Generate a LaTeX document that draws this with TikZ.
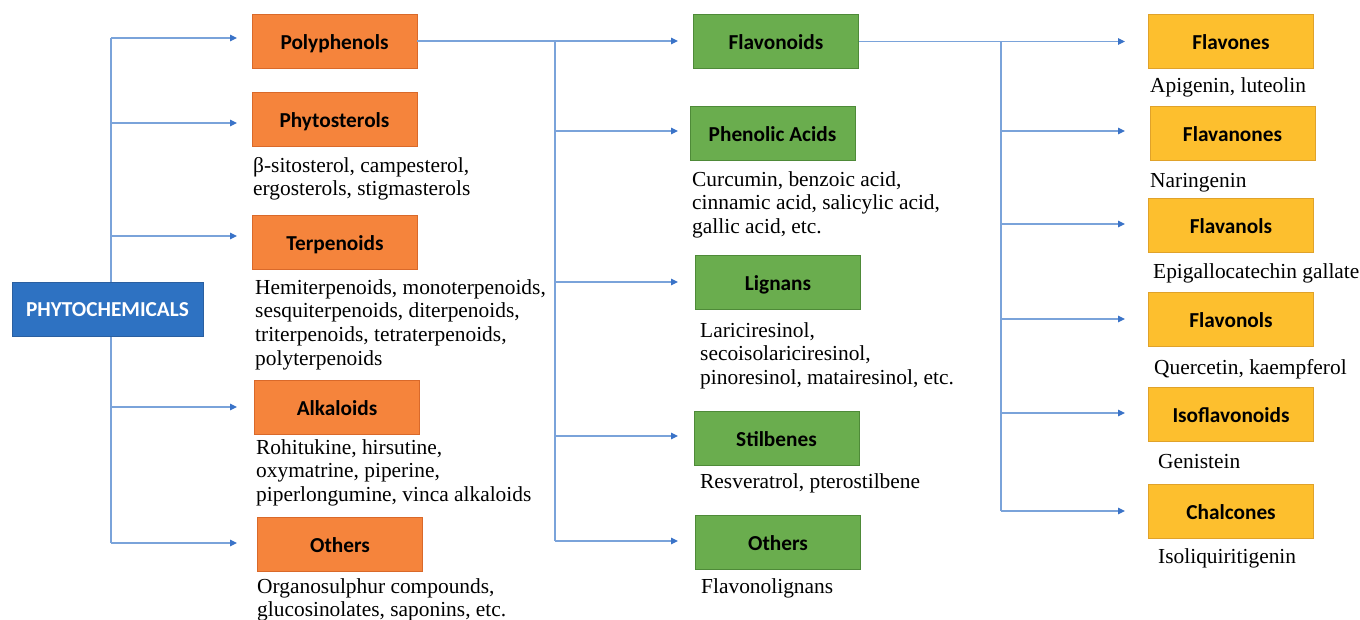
\documentclass[tikz,border=0pt]{standalone}
\usepackage{fontspec}
\setmainfont{Liberation Serif}
\newfontfamily\labfont{Carlito}
\usetikzlibrary{arrows.meta}
\definecolor{orfill}{HTML}{F5843C}
\definecolor{ordraw}{HTML}{D9692A}
\definecolor{grfill}{HTML}{6AAD4E}
\definecolor{grdraw}{HTML}{4E8A38}
\definecolor{yefill}{HTML}{FDBF2E}
\definecolor{yedraw}{HTML}{E0A22A}
\definecolor{blfill}{HTML}{2E72C2}
\definecolor{bldraw}{HTML}{2A5FA0}
\definecolor{linecol}{HTML}{7AA3DA}
\definecolor{tipcol}{HTML}{3A73C8}
\newcommand\desclines[1]{\begin{tabular}[t]{@{}l@{}}#1\end{tabular}}
\begin{document}
\begin{tikzpicture}[x=1pt,y=-1pt,
  box/.style={rectangle, inner sep=0pt, minimum width=165pt, minimum height=54pt, line width=0.9pt,
    text height=18pt, text depth=2pt,
    font=\labfont\bfseries\fontsize{21.3}{24}\selectfont},
  orbox/.style={box, fill=orfill, draw=ordraw},
  grbox/.style={box, fill=grfill, draw=grdraw},
  yebox/.style={box, fill=yefill, draw=yedraw},
  desc/.style={anchor=base west, inner sep=0pt, font=\fontsize{21.4}{23.8}\selectfont},
  conn/.style={draw=linecol, line width=1.1pt},
  arr/.style={conn, -{Triangle[length=7pt,width=6.5pt,color=tipcol]}}
]
\useasboundingbox (0,0) rectangle (1360,619);
\fill[white] (0,0) rectangle (1360,619);

% left trunk
\coordinate (l1) at (111,38);
\coordinate (l2) at (111,123);
\coordinate (l3) at (111,236);
\coordinate (l4) at (111,407);
\coordinate (l5) at (111,543);
\coordinate (la1) at (237,38);
\coordinate (la2) at (237,123);
\coordinate (la3) at (237,236);
\coordinate (la4) at (237,407);
\coordinate (la5) at (237,543);
\draw[conn] (l1) -- (l5);

% nodes
\node[box, fill=blfill, draw=bldraw, minimum width=191pt, text=white, text height=17pt] (phc) at (107.5,309) {PHYTOCHEMICALS};

\node[orbox] (poly) at (334.5,41) {Polyphenols};
\node[orbox] (phyto) at (334.5,119) {Phytosterols};
\node[orbox] (terp) at (335,242.5) {Terpenoids};
\node[orbox] (alk) at (337,407.5) {Alkaloids};
\node[orbox] (oth1) at (340,544) {Others};

\node[grbox] (flav) at (776,41.5) {Flavonoids};
\node[grbox] (phen) at (772.5,133) {Phenolic Acids};
\node[grbox] (lign) at (778,282) {Lignans};
\node[grbox] (stil) at (776.5,438.5) {Stilbenes};
\node[grbox] (oth2) at (778,542.5) {Others};

\node[yebox] (flvs) at (1231,41) {Flavones};
\node[yebox] (flvn) at (1232.5,133) {Flavanones};
\node[yebox] (flnl) at (1231,225) {Flavanols};
\node[yebox] (flvl) at (1231,319.5) {Flavonols};
\node[yebox] (iso) at (1231,414.5) {Isoflavonoids};
\node[yebox] (chal) at (1231,511.5) {Chalcones};

% left arrows
\draw[arr] (l1) -- (la1);
\draw[arr] (l2) -- (la2);
\draw[arr] (l3) -- (la3);
\draw[arr] (l4) -- (la4);
\draw[arr] (l5) -- (la5);

% middle connectors
\coordinate (m1) at (555,41);
\coordinate (m2) at (555,131);
\coordinate (m3) at (555,282);
\coordinate (m4) at (555,436);
\coordinate (m5) at (555,541);
\coordinate (ma1) at (678,41);
\coordinate (ma2) at (678,131);
\coordinate (ma3) at (678,282);
\coordinate (ma4) at (678,436);
\coordinate (ma5) at (678,541);
\draw[conn] (m1) -- (m5);
\draw[arr] (poly.east) -- (ma1);
\draw[arr] (m2) -- (ma2);
\draw[arr] (m3) -- (ma3);
\draw[arr] (m4) -- (ma4);
\draw[arr] (m5) -- (ma5);

% right connectors
\coordinate (r1) at (1001,41.5);
\coordinate (r2) at (1001,131);
\coordinate (r3) at (1001,224);
\coordinate (r4) at (1001,319);
\coordinate (r5) at (1001,413);
\coordinate (r6) at (1001,511);
\coordinate (ra1) at (1125,41.5);
\coordinate (ra2) at (1125,131);
\coordinate (ra3) at (1125,224);
\coordinate (ra4) at (1125,319);
\coordinate (ra5) at (1125,413);
\coordinate (ra6) at (1125,511);
\draw[conn] (r1) -- (r6);
\draw[arr] (flav.east) -- (ra1);
\draw[arr] (r2) -- (ra2);
\draw[arr] (r3) -- (ra3);
\draw[arr] (r4) -- (ra4);
\draw[arr] (r5) -- (ra5);
\draw[arr] (r6) -- (ra6);

% descriptions
\node[desc] (dphyto) at (253,172) {\desclines{β-sitosterol, campesterol,\\ergosterols, stigmasterols}};
\node[desc] (dterp) at (255,294) {\desclines{Hemiterpenoids, monoterpenoids,\\sesquiterpenoids, diterpenoids,\\triterpenoids, tetraterpenoids,\\polyterpenoids}};
\node[desc] (dalk) at (256,454) {\desclines{Rohitukine, hirsutine,\\oxymatrine, piperine,\\piperlongumine, vinca alkaloids}};
\node[desc] (doth1) at (257,593) {\desclines{Organosulphur compounds,\\glucosinolates, saponins, etc.}};

\node[desc] (dphen) at (692,186) {\desclines{Curcumin, benzoic acid,\\cinnamic acid, salicylic acid,\\gallic acid, etc.}};
\node[desc] (dlign) at (700,337) {\desclines{Lariciresinol,\\secoisolariciresinol,\\pinoresinol, matairesinol, etc.}};
\node[desc] (dstil) at (700,488) {Resveratrol, pterostilbene};
\node[desc] (doth2) at (701,593) {Flavonolignans};

\node[desc] (dflvs) at (1150,92) {Apigenin, luteolin};
\node[desc] (dflvn) at (1150,187) {Naringenin};
\node[desc] (dflnl) at (1153,278) {Epigallocatechin gallate};
\node[desc] (dflvl) at (1154,374) {Quercetin, kaempferol};
\node[desc] (diso) at (1158,468) {Genistein};
\node[desc] (dchal) at (1158,563) {Isoliquiritigenin};
\end{tikzpicture}
\end{document}
